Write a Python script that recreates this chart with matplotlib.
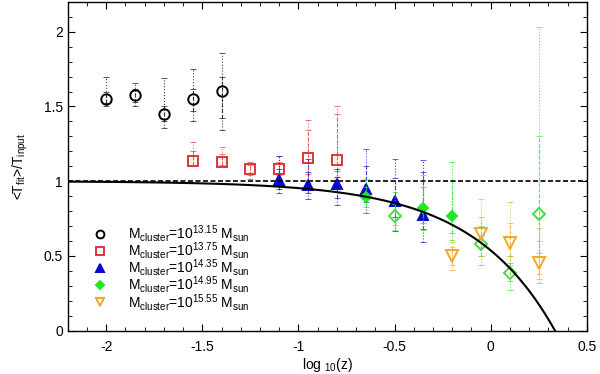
import numpy as np
import matplotlib
matplotlib.use("Agg")
import matplotlib.pyplot as plt
from matplotlib.ticker import MultipleLocator

plt.rcParams['font.family'] = ['Liberation Sans', 'DejaVu Sans']
plt.rcParams['mathtext.default'] = 'regular'

# x = log10(z), y = <T_fit>/T_input
# each series: y, outer error (lo, hi), inner error (lo, hi)
x_c = [-2.0, -1.85, -1.7, -1.55, -1.4]
y_c = [1.551, 1.575, 1.447, 1.551, 1.601]
lo_c = [1.503, 1.503, 1.354, 1.400, 1.343]
hi_c = [1.695, 1.660, 1.688, 1.750, 1.855]
ilo_c = [1.520, 1.530, 1.400, 1.470, 1.420]
ihi_c = [1.600, 1.620, 1.500, 1.620, 1.700]

x_s = [-1.55, -1.4, -1.25, -1.1, -0.95, -0.8]
y_s = [1.135, 1.131, 1.080, 1.080, 1.157, 1.140]
lo_s = [1.100, 1.097, 1.013, 1.020, 0.990, 1.030]
hi_s = [1.260, 1.231, 1.126, 1.170, 1.410, 1.500]
ilo_s = [1.110, 1.110, 1.040, 1.040, 1.050, 1.070]
ihi_s = [1.200, 1.180, 1.110, 1.130, 1.340, 1.450]

x_t = [-1.1, -0.95, -0.8, -0.65, -0.5, -0.35]
y_t = [1.008, 0.975, 0.981, 0.950, 0.865, 0.774]
lo_t = [0.919, 0.879, 0.841, 0.785, 0.669, 0.595]
hi_t = [1.170, 1.150, 1.080, 1.213, 1.146, 1.142]
ilo_t = [0.950, 0.920, 0.890, 0.860, 0.760, 0.680]
ihi_t = [1.080, 1.060, 1.030, 1.100, 1.020, 1.060]

x_d = [-0.65, -0.35, -0.2]
y_d = [0.897, 0.823, 0.767]
lo_d = [0.786, 0.673, 0.607]
hi_d = [1.015, 1.040, 1.130]
ilo_d = [0.830, 0.720, 0.650]
ihi_d = [0.960, 0.960, 1.000]

x_o = [-0.5, -0.05, 0.1, 0.25]
y_o = [0.765, 0.578, 0.388, 0.778]
lo_o = [0.674, 0.440, 0.272, 0.317]
hi_o = [0.930, 0.700, 0.500, 2.030]
ilo_o = [0.710, 0.500, 0.330, 0.520]
ihi_o = [0.850, 0.640, 0.450, 1.300]

x_v = [-0.2, -0.05, 0.1, 0.25]
y_v = [0.500, 0.645, 0.589, 0.451]
lo_v = [0.406, 0.500, 0.440, 0.344]
hi_v = [0.595, 0.881, 0.863, 0.685]
ilo_v = [0.440, 0.560, 0.500, 0.380]
ihi_v = [0.560, 0.760, 0.720, 0.600]

# model curve: T_fit/T_input = 1 - z/z0
z0 = 2.16

labels = [r'M$_{cluster}$=10$^{13.15}$ M$_{sun}$',
          r'M$_{cluster}$=10$^{13.75}$ M$_{sun}$',
          r'M$_{cluster}$=10$^{14.35}$ M$_{sun}$',
          r'M$_{cluster}$=10$^{14.95}$ M$_{sun}$',
          r'M$_{cluster}$=10$^{15.55}$ M$_{sun}$']

fig = plt.figure(figsize=(6, 3.74), dpi=100)
ax = fig.add_axes([0.113, 0.116, 0.865, 0.879])

series = [
    (x_c, y_c, lo_c, hi_c, ilo_c, ihi_c, 'o', 'black', 'none', 7.5, labels[0]),
    (x_s, y_s, lo_s, hi_s, ilo_s, ihi_s, 's', '#e03535', 'none', 7.5, labels[1]),
    (x_t, y_t, lo_t, hi_t, ilo_t, ihi_t, '^', '#0a0acc', '#0a0acc', 7, labels[2]),
    (x_d, y_d, lo_d, hi_d, ilo_d, ihi_d, 'D', '#22e622', '#22e622', 5.5, labels[3]),
    (x_o, y_o, lo_o, hi_o, ilo_o, ihi_o, 'D', '#44dd44', 'none', 6, None),
    (x_v, y_v, lo_v, hi_v, ilo_v, ihi_v, 'v', '#f0a825', 'none', 8, labels[4]),
]

handles = {}
for xs, ys, lo, hi, ilo, ihi, mk, col, fc, ms, lab in series:
    xs = np.array(xs); ys = np.array(ys)
    outer = [ys - np.array(lo), np.array(hi) - ys]
    inner = [ys - np.array(ilo), np.array(ihi) - ys]
    eb = ax.errorbar(xs, ys, yerr=outer, fmt='none', ecolor=col, elinewidth=0.8,
                     capsize=2.5, capthick=0.6, alpha=0.75)
    eb[2][0].set_linestyle(':')
    eb2 = ax.errorbar(xs, ys, yerr=inner, fmt='none', ecolor=col, elinewidth=0.8,
                      capsize=2.5, capthick=0.6, alpha=0.75)
    eb2[2][0].set_linestyle((0, (3, 2)))
    h, = ax.plot(xs, ys, ls='none', marker=mk, ms=ms, mec=col, mfc=fc, mew=1.4)
    if lab:
        handles[lab] = h

xx = np.linspace(-2.2, 0.5, 400)
ax.plot(xx, 1 - 10**xx / z0, color='black', lw=1.5)
ax.axhline(1.0, color='black', ls=(0, (3, 1.5)), lw=1.2)

ax.set_xlim(-2.2, 0.5)
ax.set_ylim(0, 2.2)
ax.xaxis.set_minor_locator(MultipleLocator(0.1))
ax.yaxis.set_minor_locator(MultipleLocator(0.1))
ax.set_xticks([-2, -1.5, -1, -0.5, 0, 0.5])
ax.set_xticklabels(['-2', '-1.5', '-1', '-0.5', '0', '0.5'])
ax.set_yticks([0, 0.5, 1, 1.5, 2])
ax.set_yticklabels(['0', '0.5', '1', '1.5', '2'])
ax.tick_params(which='both', direction='in', top=True, right=True, labelsize=10)
ax.tick_params(axis='x', which='major', pad=6.5)
ax.tick_params(which='major', length=5)
ax.tick_params(which='minor', length=3)
for sp in ax.spines.values():
    sp.set_linewidth(1.0)

ax.set_xlabel(r'log $_{10}$(z)', fontsize=10, labelpad=2)
ax.set_ylabel(r'<T$_{fit}$>/T$_{input}$', fontsize=10, labelpad=10)

ax.legend([handles[l] for l in labels], labels, loc='lower left',
          bbox_to_anchor=(0.0, 0.0), frameon=False, fontsize=10,
          markerscale=0.75, handlelength=2.0, handletextpad=1.0,
          labelspacing=-0.28, borderaxespad=0.9)

fig.savefig('out.png', dpi=100)
